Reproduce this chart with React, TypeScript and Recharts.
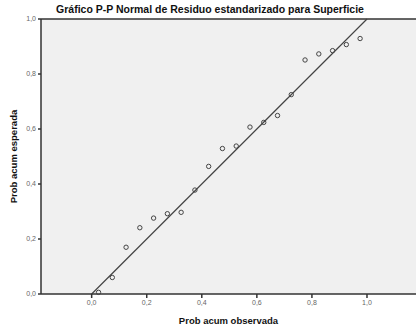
import {
  CartesianGrid,
  ReferenceLine,
  Scatter,
  ScatterChart,
  XAxis,
  YAxis,
} from 'recharts'

// observed cumulative prob (x) vs expected cumulative prob (y)
const observed = [
  0.025, 0.075, 0.125, 0.175, 0.225, 0.275, 0.325, 0.375, 0.425, 0.475,
  0.525, 0.575, 0.625, 0.675, 0.725, 0.775, 0.825, 0.875, 0.925, 0.975,
]
const expected = [
  0.006, 0.06, 0.17, 0.241, 0.276, 0.292, 0.297, 0.378, 0.464, 0.529,
  0.538, 0.607, 0.624, 0.649, 0.725, 0.851, 0.873, 0.885, 0.907, 0.929,
]
const ticks = [0, 0.2, 0.4, 0.6, 0.8, 1.0]

const title = 'Gráfico P-P Normal de Residuo estandarizado para Superficie'

const fmt = (v: number) => v.toFixed(1).replace('.', ',')

const data = observed.map((x, i) => ({ x, y: expected[i] }))

const Ring = (props: any) => {
  const { cx, cy } = props
  if (cx == null || cy == null) return null
  return <circle cx={cx} cy={cy} r={2.2} fill="none" stroke="#444" strokeWidth={1} />
}

const tickStyle = { fontSize: 7, fill: '#666', fontFamily: 'Liberation Sans, Arial, sans-serif' }
const labelStyle = {
  fontSize: 9.5,
  fontWeight: 'bold' as const,
  fill: '#111',
  fontFamily: 'Liberation Sans, Arial, sans-serif',
}

export default function App() {
  return (
    <div style={{ position: 'fixed', top: 0, left: 0, width: 416, height: 329, background: '#fff' }}>
      <div
        style={{
          position: 'absolute',
          top: 3,
          left: 2,
          width: 416,
          textAlign: 'center',
          fontFamily: 'Liberation Sans, Arial, sans-serif',
          fontWeight: 'bold',
          fontSize: 10.5,
          color: '#111',
        }}
      >
        {title}
      </div>
      <ScatterChart width={416} height={329} margin={{ top: 19, right: 0, left: 0, bottom: 0 }}>
        <CartesianGrid fill="#f0f0f0" stroke="none" horizontal={false} vertical={false} />
        <XAxis
          type="number"
          dataKey="x"
          domain={[-0.184, 1.178]}
          ticks={ticks}
          tickFormatter={fmt}
          height={35}
          tick={tickStyle}
          tickSize={4}
          stroke="#333"
          strokeWidth={1.5}
          allowDataOverflow
          label={{ value: 'Prob acum observada', position: 'insideBottom', offset: 5, style: labelStyle }}
        />
        <YAxis
          type="number"
          dataKey="y"
          domain={[0, 1]}
          ticks={ticks}
          tickFormatter={fmt}
          width={41}
          tick={tickStyle}
          tickSize={3}
          stroke="#333"
          strokeWidth={1.5}
          label={{
            value: 'Prob acum esperada',
            angle: -90,
            position: 'insideLeft',
            offset: 14,
            style: { ...labelStyle, textAnchor: 'middle' },
          }}
        />
        <ReferenceLine y={1} stroke="#333" strokeWidth={1.5} />
        <ReferenceLine
          segment={[
            { x: 0, y: 0 },
            { x: 1, y: 1 },
          ]}
          stroke="#444"
          strokeWidth={1.2}
        />
        <Scatter data={data} shape={Ring} isAnimationActive={false} />
      </ScatterChart>
    </div>
  )
}
